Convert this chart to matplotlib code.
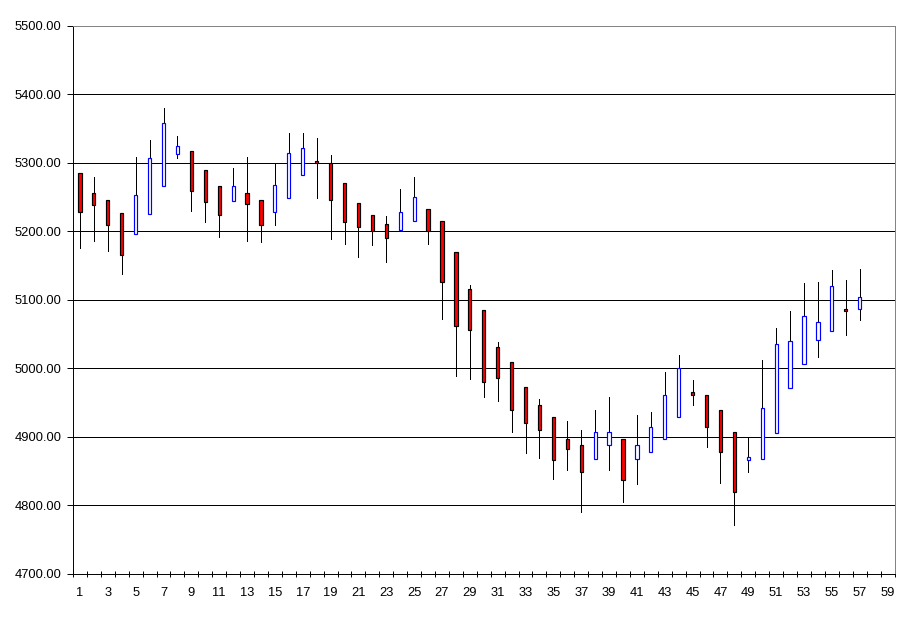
import numpy as np
import matplotlib
matplotlib.use("Agg")
import matplotlib.pyplot as plt

plt.rcParams['font.family'] = ['Liberation Sans', 'DejaVu Sans']

days = list(range(1, 58))
opens = [5284.7, 5256.9, 5246.7, 5227.7, 5196.6, 5225.8, 5266.7, 5313.4, 5318.2, 5289.5,
         5265.7, 5244.8, 5255.5, 5246.7, 5228.7, 5248.2, 5283.2, 5302.2, 5299.3, 5270.9,
         5241.7, 5224.3, 5211.2, 5202.4, 5215.5, 5233.0, 5215.5, 5170.4, 5116.5, 5085.9,
         5031.0, 5008.8, 4973.7, 4946.0, 4928.5, 4896.4, 4889.0, 4868.6, 4887.6, 4896.4,
         4867.2, 4877.4, 4896.4, 4929.9, 4965.0, 4962.0, 4938.7, 4908.0, 4865.7, 4868.4,
         4906.3, 4971.8, 5006.8, 5041.7, 5054.9, 5086.9, 5086.9]
highs = [5284.7, 5279.3, 5246.7, 5227.7, 5308.5, 5333.3, 5379.6, 5339.2, 5318.2, 5289.5,
         5265.7, 5292.5, 5308.5, 5246.7, 5300.2, 5343.6, 5343.6, 5337.2, 5311.4, 5270.9,
         5241.7, 5224.3, 5222.8, 5262.6, 5279.6, 5233.0, 5215.5, 5170.4, 5121.4, 5085.9,
         5038.5, 5008.8, 4973.7, 4956.2, 4928.5, 4923.1, 4910.0, 4939.2, 4957.7, 4896.4,
         4932.8, 4937.2, 4995.6, 5020.4, 4982.5, 4962.0, 4938.7, 4908.0, 4900.7, 5011.7,
         5059.2, 5084.5, 5124.8, 5126.2, 5143.7, 5129.1, 5145.1]
lows = [5176.0, 5185.9, 5171.3, 5138.2, 5196.6, 5225.8, 5266.7, 5307.5, 5229.7, 5214.1,
        5192.2, 5244.8, 5186.4, 5184.9, 5209.7, 5248.2, 5283.2, 5248.2, 5189.3, 5181.6,
        5162.6, 5179.6, 5155.3, 5202.4, 5215.5, 5181.6, 5072.3, 4989.3, 4984.9, 4958.7,
        4952.3, 4907.5, 4876.9, 4869.6, 4838.9, 4852.1, 4790.8, 4868.6, 4852.1, 4805.4,
        4831.6, 4877.4, 4896.4, 4929.9, 4947.4, 4885.6, 4833.1, 4771.8, 4849.1, 4868.4,
        4906.3, 4971.8, 5006.8, 5016.5, 5054.9, 5048.5, 5070.9]
closes = [5228.7, 5238.9, 5209.7, 5166.4, 5254.0, 5306.6, 5359.1, 5324.1, 5259.4, 5243.3,
          5224.3, 5265.7, 5240.4, 5209.7, 5267.2, 5315.3, 5322.6, 5299.3, 5246.7, 5214.1,
          5206.3, 5200.5, 5190.8, 5228.6, 5250.5, 5200.5, 5126.2, 5062.1, 5056.3, 4980.6,
          4986.0, 4940.1, 4920.7, 4910.9, 4865.7, 4883.2, 4848.2, 4906.6, 4906.6, 4836.5,
          4887.6, 4913.9, 4962.0, 5000.0, 4962.0, 4915.3, 4878.8, 4820.4, 4870.1, 4942.7,
          5035.9, 5040.3, 5076.7, 5068.0, 5120.4, 5084.0, 5104.4]

n_categories = 59
y_ticks = list(range(4700, 5501, 100))
x_labels = list(range(1, n_categories + 1, 2))

px = 1 / 100.0
fig = plt.figure(figsize=(909 * px, 620 * px), dpi=100)
ax = fig.add_axes([73 / 909, 1 - 574 / 620, (894.5 - 73) / 909, (574 - 26) / 620])

o = np.array(opens); c = np.array(closes); h = np.array(highs); l = np.array(lows)
x = np.array(days)
up = c >= o

lw = 0.7
ax.vlines(x, l, h, color='black', linewidth=lw, zorder=2, antialiased=False)

bw = 0.23
ax.bar(x[up], (c - o)[up], bottom=o[up], width=bw, color='white',
       edgecolor='#0000FF', linewidth=0.85, zorder=3)
ax.bar(x[~up], (o - c)[~up], bottom=c[~up], width=bw, color='#FF0000',
       edgecolor='black', linewidth=0.85, zorder=3)

ax.set_xlim(0.5, n_categories + 0.5)
ax.set_ylim(4700, 5500)

ax.set_yticks(y_ticks)
ax.set_yticklabels([f"{v:.2f}" for v in y_ticks])
ax.set_xticks(x_labels)
ax.set_xticklabels([str(v) for v in x_labels])
ax.set_xticks(np.arange(0.5, n_categories + 1, 1), minor=True)

ax.tick_params(axis='x', which='major', length=0, pad=9, labelsize=9.3)
ax.tick_params(axis='x', which='minor', direction='inout', length=5, width=lw, color='black')
ax.tick_params(axis='y', which='major', direction='out', length=4, width=lw, pad=4.5,
               labelsize=9.3, color='black')

ax.yaxis.grid(True, color='black', linewidth=lw, zorder=1, antialiased=False)
ax.set_axisbelow(True)
gl = ax.get_ygridlines()
gl[0].set_visible(False)
gl[-1].set_visible(False)

for s in ['top', 'right']:
    ax.spines[s].set_color('#808080')
    ax.spines[s].set_linewidth(lw)
for s in ['left', 'bottom']:
    ax.spines[s].set_color('black')
    ax.spines[s].set_linewidth(lw)

fig.savefig('out.png', dpi=100, facecolor='white')
